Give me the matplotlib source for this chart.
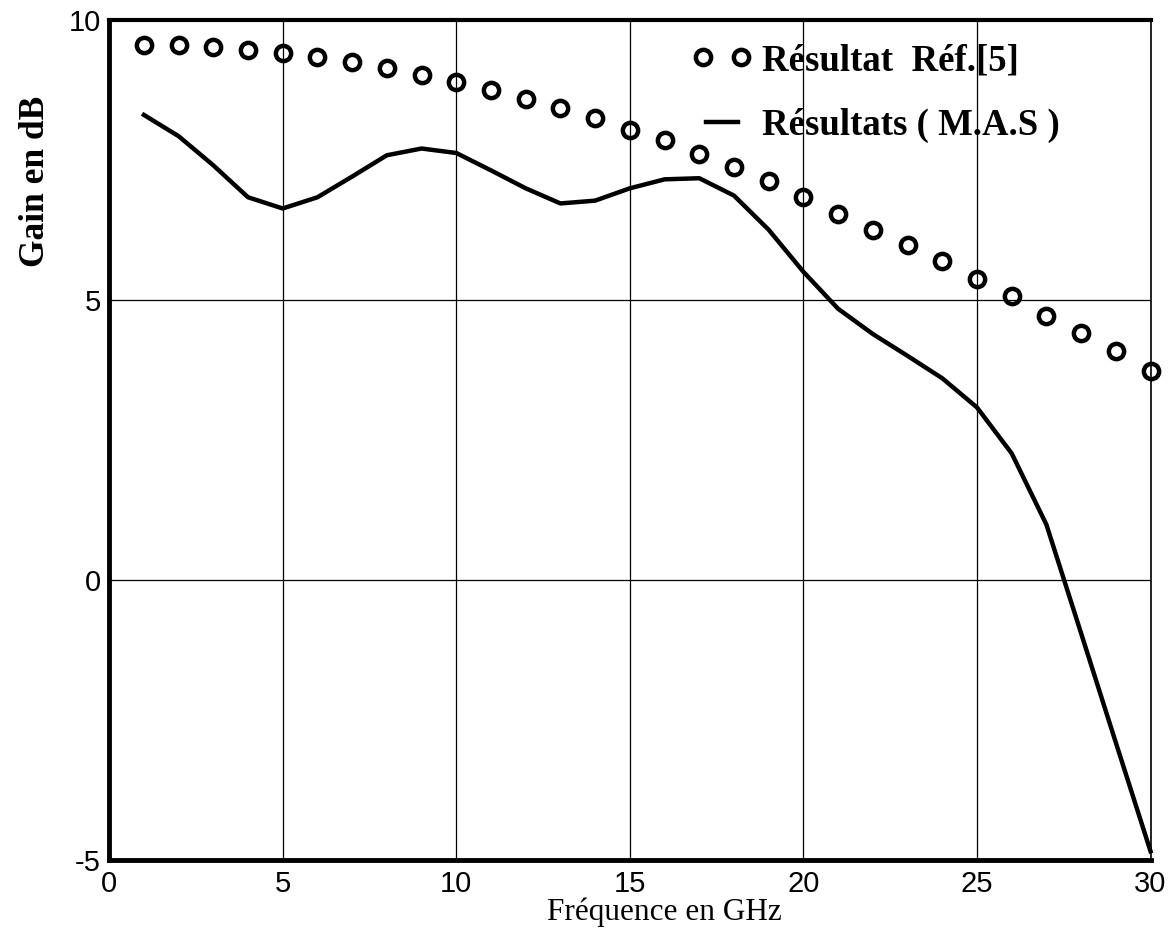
import numpy as np
import matplotlib
matplotlib.use("Agg")
import matplotlib.pyplot as plt
from matplotlib.legend_handler import HandlerLine2D

plt.rcParams["axes.unicode_minus"] = False

# Gain versus frequency: reference results (circles) and M.A.S results (line)
freq_ref = [1, 2, 3, 4, 5, 6, 7, 8, 9, 10, 11, 12, 13, 14, 15,
            16, 17, 18, 19, 20, 21, 22, 23, 24, 25, 26, 27, 28, 29, 30]
gain_ref = [9.55, 9.55, 9.52, 9.46, 9.41, 9.34, 9.25, 9.14, 9.02, 8.89,
            8.74, 8.58, 8.42, 8.24, 8.03, 7.85, 7.60, 7.37, 7.12, 6.83,
            6.54, 6.24, 5.97, 5.70, 5.37, 5.07, 4.72, 4.41, 4.09, 3.73]

freq_mas = [1, 2, 3, 4, 5, 6, 7, 8, 9, 10, 11, 12, 13, 14, 15,
            16, 17, 18, 19, 20, 21, 22, 23, 24, 25, 26, 27, 28, 29, 30]
gain_mas = [8.30, 7.92, 7.40, 6.83, 6.63, 6.83, 7.20, 7.58, 7.70, 7.62,
            7.31, 6.99, 6.72, 6.77, 6.99, 7.15, 7.17, 6.86, 6.25, 5.50,
            4.84, 4.39, 4.00, 3.60, 3.08, 2.26, 0.99, -0.95, -2.90, -4.84]

x_ticks = [0, 5, 10, 15, 20, 25, 30]
y_ticks = [-5, 0, 5, 10]

SANS = ["Liberation Sans", "DejaVu Sans"]
SERIF = ["Liberation Serif", "DejaVu Serif"]

fig = plt.figure(figsize=(11.74, 9.35), dpi=100)
ax = fig.add_axes([0.093, 0.080, 0.887, 0.899])

ref_line, = ax.plot(freq_ref, gain_ref, linestyle="none", marker="o", ms=11,
                    mfc="none", mec="black", mew=3.2, label="Résultat  Réf.[5]",
                    clip_on=False, zorder=3)
ax.plot(freq_mas, gain_mas, color="black", lw=3.2,
        label="Résultats ( M.A.S )", clip_on=False, zorder=3)

ax.set_xlim(0, 30)
ax.set_ylim(-5, 10)
ax.set_xticks(x_ticks)
ax.set_yticks(y_ticks)
ax.tick_params(length=0, labelsize=21)
ax.tick_params(axis="x", pad=7)
ax.tick_params(axis="y", pad=6)
for lab in ax.get_xticklabels() + ax.get_yticklabels():
    lab.set_family(SANS)

ax.grid(True, color="black", lw=0.9)
ax.set_axisbelow(True)

for side, w in [("left", 3.5), ("bottom", 3.5), ("top", 3.0), ("right", 1.2)]:
    ax.spines[side].set_linewidth(w)
    ax.spines[side].set_color("black")

ax.set_xlabel("Fréquence en GHz", family=SERIF, fontsize=22.5)
ax.xaxis.set_label_coords(0.533, -0.044)
ax.set_ylabel("Gain en dB", family=SERIF, fontsize=25.5, fontweight="bold")
ax.yaxis.set_label_coords(-0.055, 0.808)

leg = ax.legend(loc="upper left", bbox_to_anchor=(0.563, 0.972),
                numpoints=2, frameon=False, borderpad=0, borderaxespad=0,
                handlelength=1.45, handletextpad=0.35, labelspacing=0.8,
                handler_map={ref_line: HandlerLine2D(numpoints=2, marker_pad=0.2)},
                prop={"family": SERIF, "weight": "bold", "size": 26.5})

fig.savefig("out.png", dpi=100)
